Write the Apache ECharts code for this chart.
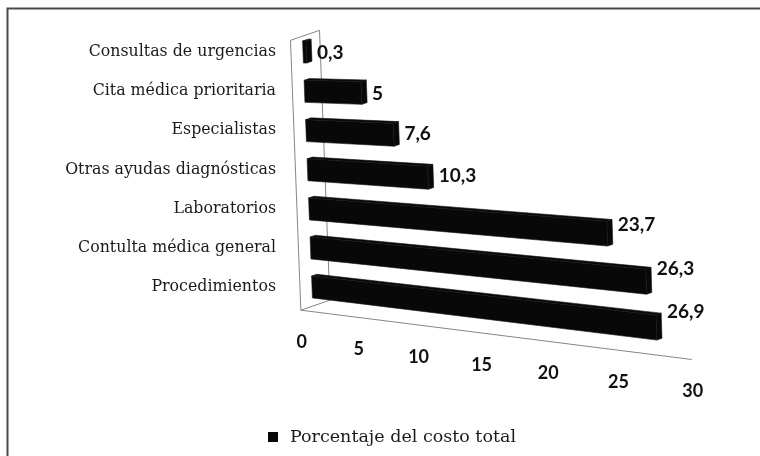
<!DOCTYPE html>
<html>
<head>
<meta charset="utf-8">
<script src="https://cdn.jsdelivr.net/npm/echarts@6/dist/echarts.min.js"></script>
<style>
  html, body { margin: 0; padding: 0; background: #fff; }
  #chart { width: 760px; height: 456px; }
</style>
</head>
<body>
<div id="chart"></div>
<script>
var categories = ['Consultas de urgencias', 'Cita médica prioritaria', 'Especialistas',
  'Otras ayudas diagnósticas', 'Laboratorios', 'Contulta médica general', 'Procedimientos'];
var values = [0.3, 5, 7.6, 10.3, 23.7, 26.3, 26.9];
var ticks = [0, 5, 10, 15, 20, 25, 30];
var seriesName = 'Porcentaje del costo total';

// perspective: where the flat grid corners (v=0/30, first/last row) land on screen
var corners = [[303, 52], [312, 287], [703, 333], [695, 57]];
var DV = [29, -10];        // depth direction, front -> back
var FRONT = -0.41, BACK = 0.59;
var ROW_TOP = -0.4, ROW_FLOOR = 6.49;
var BAR_HALF = 0.28, BAR_DEPTH = 0.18;

function solveH(src, dst) {
  var A = [], b = [];
  for (var i = 0; i < 4; i++) {
    var x = src[i][0], y = src[i][1], X = dst[i][0], Y = dst[i][1];
    A.push([x, y, 1, 0, 0, 0, -x * X, -y * X]); b.push(X);
    A.push([0, 0, 0, x, y, 1, -x * Y, -y * Y]); b.push(Y);
  }
  var n = 8;
  for (var c = 0; c < n; c++) {
    var p = c;
    for (var r = c + 1; r < n; r++) if (Math.abs(A[r][c]) > Math.abs(A[p][c])) p = r;
    var t = A[c]; A[c] = A[p]; A[p] = t;
    var tb = b[c]; b[c] = b[p]; b[p] = tb;
    for (var r2 = 0; r2 < n; r2++) {
      if (r2 === c) continue;
      var f = A[r2][c] / A[c][c];
      for (var k = c; k < n; k++) A[r2][k] -= f * A[c][k];
      b[r2] -= f * b[c];
    }
  }
  return b.map(function (v, i) { return v / A[i][i]; });
}

function applyH(h, p) {
  var w = h[6] * p[0] + h[7] * p[1] + 1;
  return [(h[0] * p[0] + h[1] * p[1] + h[2]) / w, (h[3] * p[0] + h[4] * p[1] + h[5]) / w];
}

function projector(api) {
  var last = categories.length - 1;
  var src = [api.coord([0, 0]), api.coord([0, last]), api.coord([30, last]), api.coord([30, 0])];
  var h = solveH(src, corners);
  // v on value axis, r = row (may be fractional), d = depth
  return function (v, r, d) {
    var p0 = api.coord([v, 0]), p1 = api.coord([v, 1]);
    var flat = [p0[0] + r * (p1[0] - p0[0]), p0[1] + r * (p1[1] - p0[1])];
    var s = applyH(h, flat);
    return [s[0] + (d || 0) * DV[0], s[1] + (d || 0) * DV[1]];
  };
}

function fmt(v) { return String(v).replace('.', ','); }

var chart = echarts.init(document.getElementById('chart'));

chart.setOption({
  animation: false,
  color: ['#080808'],
  grid: { left: 303, right: 67, top: 32, height: 275 },
  xAxis: {
    type: 'value', min: 0, max: 30, interval: 5,
    axisLine: { show: false }, axisTick: { show: false },
    axisLabel: { show: false }, splitLine: { show: false }
  },
  yAxis: {
    type: 'category', data: categories, inverse: true,
    axisLine: { show: false }, axisTick: { show: false },
    axisLabel: { margin: 27, fontFamily: 'DejaVu Serif', fontSize: 15.8, color: '#1a1a1a' }
  },
  legend: {
    data: [seriesName], left: 268, top: 428, padding: 0, icon: 'rect',
    itemWidth: 10, itemHeight: 10,
    textStyle: { fontFamily: 'DejaVu Serif', fontSize: 17.5, color: '#1a1a1a', padding: [0, 0, 0, 7] }
  },
  graphic: [{
    type: 'polyline',
    shape: { points: [[7.5, 456], [7.5, 8.5], [760, 8.5]] },
    style: { stroke: '#4a4a4a', lineWidth: 2, fill: null },
    silent: true
  }],
  series: [
    {
      // wall and floor outline
      type: 'custom', silent: true, z: 1,
      data: [[0, 0]],
      renderItem: function (params, api) {
        var P = projector(api);
        var tf = P(0, ROW_TOP, FRONT), tb = P(0, ROW_TOP, BACK);
        var bf = P(0, ROW_FLOOR, FRONT), bb = P(0, ROW_FLOOR, BACK);
        var rf = P(30, ROW_FLOOR, FRONT);
        var st = { stroke: '#858585', lineWidth: 1, fill: null };
        return {
          type: 'group', children: [
            { type: 'polyline', shape: { points: [bf, tf, tb, bb, bf, rf] }, style: st }
          ]
        };
      }
    },
    {
      // tick labels along the floor
      type: 'custom', silent: true, z: 2,
      data: ticks.map(function (t) { return [t, 0]; }),
      renderItem: function (params, api) {
        var P = projector(api);
        var p = P(api.value(0), ROW_FLOOR, FRONT);
        return {
          type: 'text',
          style: {
            text: String(api.value(0)), x: p[0] + 1, y: p[1] + 32,
            align: 'center', verticalAlign: 'middle',
            font: 'bold 18px Lato', fill: '#111'
          }
        };
      }
    },
    {
      name: seriesName,
      type: 'custom', z: 3,
      itemStyle: { color: '#080808' },
      data: values.map(function (v, i) { return [v, i]; }),
      renderItem: function (params, api) {
        var P = projector(api);
        var v = api.value(0), r = api.value(1);
        var lt = P(0, r - BAR_HALF), lb = P(0, r + BAR_HALF);
        var rt = P(v, r - BAR_HALF), rb = P(v, r + BAR_HALF);
        var lt2 = P(0, r - BAR_HALF, BAR_DEPTH), rt2 = P(v, r - BAR_HALF, BAR_DEPTH);
        var rb2 = P(v, r + BAR_HALF, BAR_DEPTH);
        var fill = { fill: '#080808', stroke: '#161616', lineWidth: 0.6 };
        var y0 = P(0, r)[1], y1 = P(v, r)[1];
        var endX = Math.max(rt2[0], rb2[0], rt[0], rb[0]);
        return {
          type: 'group', children: [
            { type: 'polygon', shape: { points: [lt, lt2, rt2, rt] }, style: fill },
            { type: 'polygon', shape: { points: [rt, rt2, rb2, rb] }, style: fill },
            { type: 'polygon', shape: { points: [lt, rt, rb, lb] }, style: fill },
            {
              type: 'text',
              style: {
                text: fmt(v), x: endX + 5, y: y0 + 0.6 * (y1 - y0) + 1,
                align: 'left', verticalAlign: 'middle',
                font: 'bold 19px Lato', fill: '#111'
              }
            }
          ]
        };
      }
    }
  ]
});
</script>
</body>
</html>
